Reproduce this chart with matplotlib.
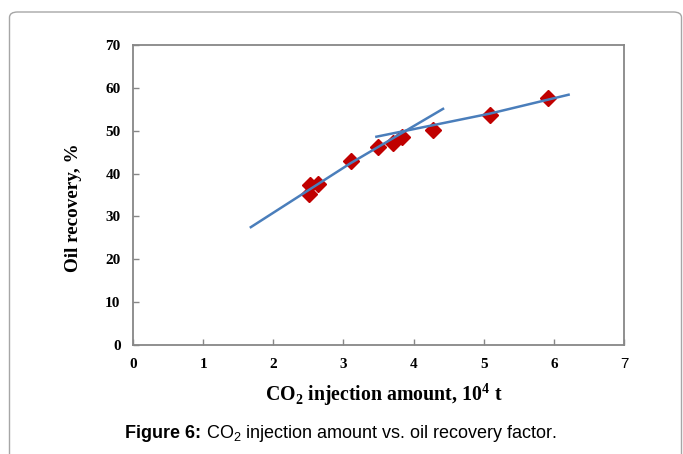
import numpy as np
import matplotlib
matplotlib.use("Agg")
import matplotlib.pyplot as plt
from matplotlib.patches import FancyBboxPatch

# measured points: CO2 injection (10^4 t) vs oil recovery (%)
inj = [2.52, 2.64, 2.51, 3.11, 3.49, 3.71, 3.84, 4.27, 5.09, 5.92]
recovery = [37.3, 37.6, 35.2, 42.9, 46.2, 47.1, 48.5, 50.2, 53.7, 57.6]

# the two trend lines
trend1_x = [1.68, 3.10, 4.42]
trend1_y = [27.5, 42.4, 55.1]
trend2_x = [3.47, 5.09, 6.21]
trend2_y = [48.6, 54.0, 58.4]

xticks = [0, 1, 2, 3, 4, 5, 6, 7]
yticks = [0, 10, 20, 30, 40, 50, 60, 70]

serif = ['Liberation Serif', 'DejaVu Serif']
sans = ['Liberation Sans', 'DejaVu Sans']
spine_col = '#878787'

fig = plt.figure(figsize=(6.83, 4.54), dpi=100)
ax = fig.add_axes([133/683, 1-345/454, (624-133)/683, 300/454])

ax.plot(trend1_x, trend1_y, color='#4A7EBB', lw=1.8, zorder=3)
ax.plot(trend2_x, trend2_y, color='#4A7EBB', lw=1.8, zorder=3)
ax.plot(inj, recovery, 'D', color='#C00000', markersize=8.4, mec='#C00000', zorder=2)

ax.set_xlim(0, 7)
ax.set_ylim(0, 70)
ax.set_xticks(xticks)
ax.set_yticks(yticks)
ax.set_xticklabels([str(t) for t in xticks])
ax.set_yticklabels([str(t) for t in yticks])
ax.tick_params(direction='in', length=4.3, width=1, color=spine_col, pad=9)
for lab in ax.get_xticklabels() + ax.get_yticklabels():
    lab.set_family(serif)
    lab.set_fontweight('bold')
    lab.set_fontsize(11)
# the last x label is drawn in a plain sans face in the original
last = ax.get_xticklabels()[-1]
last.set_family(sans)
last.set_fontweight('normal')
for s in ax.spines.values():
    s.set_color(spine_col)
    s.set_linewidth(1.3)

fig.text(73/683, 1-208/454, 'Oil recovery, %', rotation=90, family=serif,
         fontweight='bold', fontsize=13.8, ha='center', va='center')
fig.text(384/683, 1-395/454, r'CO$_\mathregular{2}$ injection amount, 10$^\mathregular{4}$ t',
         family=serif, fontweight='bold', fontsize=14.3, ha='center', va='center')

# caption in two parts: bold label + regular text
r = fig.canvas.get_renderer()
t1 = fig.text(125/683, 1-434/454, 'Figure 6:', family=sans, fontweight='bold', fontsize=13, va='center')
w = t1.get_window_extent(renderer=r).width
fig.text((125 + w)/683, 1-434/454, r' CO$_\mathregular{2}$ injection amount vs. oil recovery factor.',
         family=sans, fontsize=13, va='center')

# rounded page frame around the figure, open at the bottom
frame = FancyBboxPatch((9.5/683, -20/454), 672/683, (454-12+20)/454, transform=fig.transFigure,
                       boxstyle='round,pad=0,rounding_size=0.012', fill=False,
                       edgecolor='#A6A6A6', lw=1, clip_on=False)
fig.patches.append(frame)

fig.savefig('out.png', dpi=100)
